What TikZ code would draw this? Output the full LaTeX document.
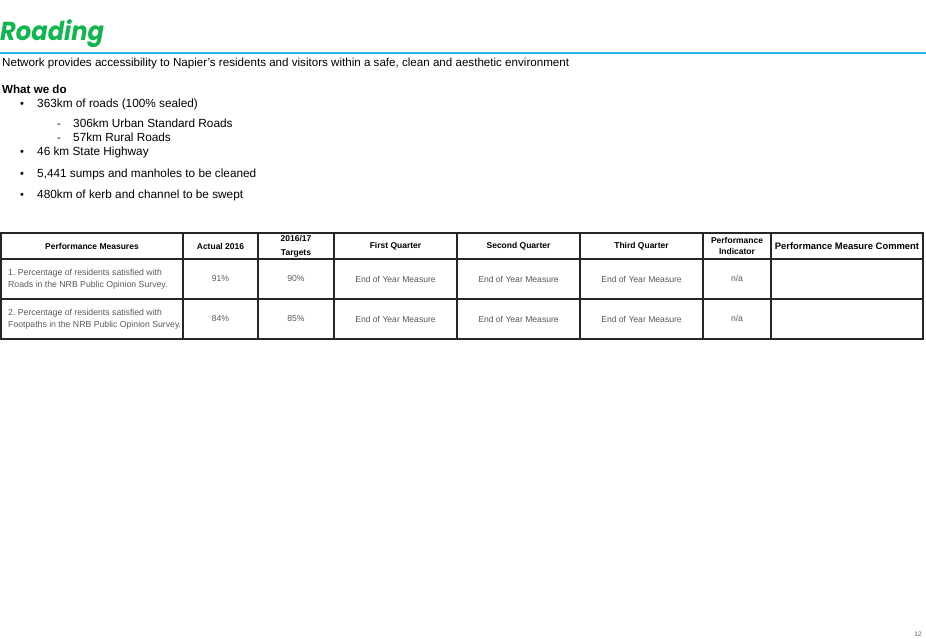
\documentclass[tikz,border=0pt]{standalone}
\usepackage{fontspec}
\setmainfont{Liberation Sans}
\newfontfamily\titlefont{Poppins}[FakeStretch=0.93]
\definecolor{roadgreen}{RGB}{20,180,80}
\definecolor{ruleblue}{RGB}{40,180,230}
\definecolor{cellgray}{gray}{0.35}
\begin{document}
\begin{tikzpicture}[x=1pt,y=-1pt,
            every node/.style={inner sep=0pt},
            body/.style={anchor=base west,font=\fontsize{11.8}{13}\selectfont},
            bulletmark/.style={anchor=base west,font=\fontsize{11}{13}\selectfont},
            head/.style={font=\fontsize{8.5}{14}\selectfont\bfseries,align=center},
            cell/.style={font=\fontsize{8.6}{12}\selectfont,text=cellgray,align=center},
            grid/.style={draw=black!85,line width=1.1pt}]

            \useasboundingbox (0,0) rectangle (926,638);

            % title and rule
            \node[anchor=base west,text=roadgreen,font=\titlefont\fontsize{26}{28}\bfseries\itshape] (title) at (0,40.5) {Roading};
            \draw[ruleblue,line width=1.3pt] (0,53) -- (926,53);
            \node[body,font=\fontsize{11.6}{13}\selectfont] (intro) at (2,66) {Network provides accessibility to Napier's residents and visitors within a safe, clean and aesthetic environment};

            % what we do
            \node[body,font=\fontsize{11.6}{13}\selectfont\bfseries] (whatwedo) at (2,93) {What we do};
            \node[bulletmark] (b1) at (20,107) {•};
            \node[body] (roads) at (37,107) {363km of roads (100\% sealed)};
            \node[bulletmark] (d1) at (57,127.5) {-};
            \node[body] (urban) at (73,127.5) {306km Urban Standard Roads};
            \node[bulletmark] (d2) at (57,141) {-};
            \node[body] (rural) at (73,141) {57km Rural Roads};
            \node[bulletmark] (b2) at (20,155) {•};
            \node[body] (highway) at (37,155) {46 km State Highway};
            \node[bulletmark] (b3) at (20,177) {•};
            \node[body] (sumps) at (37,177) {5,441 sumps and manholes to be cleaned};
            \node[bulletmark] (b4) at (20,198) {•};
            \node[body] (kerb) at (37,198) {480km of kerb and channel to be swept};

            % table grid
            \draw[grid] (1,233) rectangle (923,339);
            \foreach \x in {183,258,334,457,580,703,771}
                \draw[grid] (\x,233) -- (\x,339);
            \foreach \y in {259,299}
                \draw[grid] (1,\y) -- (923,\y);

            % header row
            \node[head] (hMeasures) at (92,246) {Performance Measures};
            \node[head] (hActual) at (220.5,246) {Actual 2016};
            \node[head] (hTargets) at (296,246.5) {2016/17\\Targets};
            \node[head] (hFirst) at (395.5,246) {First Quarter};
            \node[head] (hSecond) at (518.5,246) {Second Quarter};
            \node[head] (hThird) at (641.5,246) {Third Quarter};
            \node[head,font=\fontsize{8.5}{11}\selectfont\bfseries] (hIndicator) at (737,246) {Performance\\Indicator};
            \node[head,font=\fontsize{9.4}{11}\selectfont\bfseries] (hComment) at (847,246) {Performance Measure Comment};

            % row 1
            \node[cell,anchor=west,align=left,font=\fontsize{8.7}{12.5}\selectfont] (r1Measure) at (8,279) {1.\ Percentage of residents satisfied with\\Roads in the NRB Public Opinion Survey.};
            \node[cell] (r1Actual) at (220.5,279) {91\%};
            \node[cell] (r1Target) at (296,279) {90\%};
            \node[cell] (r1First) at (395.5,279) {End of Year Measure};
            \node[cell] (r1Second) at (518.5,279) {End of Year Measure};
            \node[cell] (r1Third) at (641.5,279) {End of Year Measure};
            \node[cell] (r1Indicator) at (737,278) {n/a};

            % row 2
            \node[cell,anchor=west,align=left,font=\fontsize{8.7}{12.5}\selectfont] (r2Measure) at (8,319) {2.\ Percentage of residents satisfied with\\Footpaths in the NRB Public Opinion Survey.};
            \node[cell] (r2Actual) at (220.5,319) {84\%};
            \node[cell] (r2Target) at (296,319) {85\%};
            \node[cell] (r2First) at (395.5,319) {End of Year Measure};
            \node[cell] (r2Second) at (518.5,319) {End of Year Measure};
            \node[cell] (r2Third) at (641.5,319) {End of Year Measure};
            \node[cell] (r2Indicator) at (737,318) {n/a};

            % page number
            \node[cell,font=\fontsize{6.5}{7}\selectfont] (page) at (918,634) {12};
\end{tikzpicture}
\end{document}
